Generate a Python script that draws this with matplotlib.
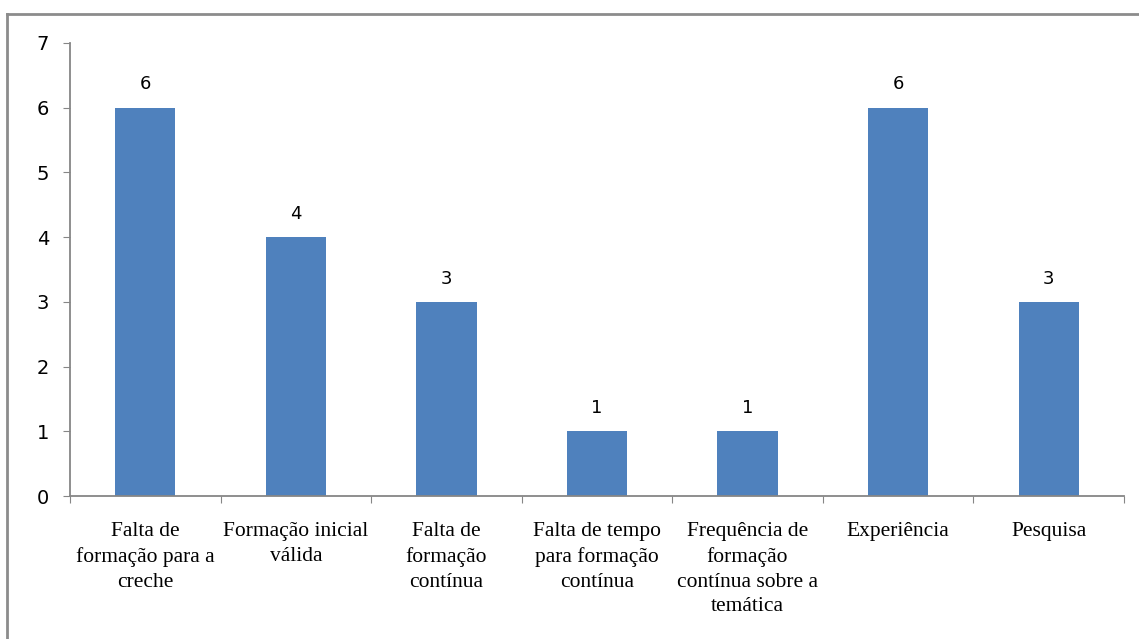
import matplotlib
matplotlib.use('Agg')
import matplotlib.pyplot as plt
from matplotlib.lines import Line2D
import numpy as np

categories = ['Falta de\nformação para a\ncreche', 'Formação inicial\nválida',
              'Falta de\nformação\ncontínua', 'Falta de tempo\npara formação\ncontínua',
              'Frequência de\nformação\ncontínua sobre a\ntemática', 'Experiência', 'Pesquisa']
values = [6, 4, 3, 1, 1, 6, 3]

axis_gray = '#868686'
bar_blue = '#4F81BD'

fig = plt.figure(figsize=(11.39, 6.39), dpi=100)
ax = fig.add_axes([70/1139, 1-496/639, (1124-70)/1139, (496-43)/639])

x = np.arange(len(categories))
bars = ax.bar(x, values, width=0.4, color=bar_blue, zorder=2)

for xi, v in zip(x, values):
    ax.text(xi, v + 0.22, str(v), ha='center', va='bottom', fontsize=13,
            family='DejaVu Sans')

ax.set_xlim(-0.5, len(categories) - 0.5)
ax.set_ylim(0, 7)
ax.set_yticks(range(0, 8))
ax.tick_params(axis='y', labelsize=14, length=5, color=axis_gray, pad=10)

# category labels between boundary ticks, like Excel
edges = np.arange(-0.5, len(categories))
ax.set_xticks(edges)
ax.set_xticklabels([''] * len(edges))
ax.tick_params(axis='x', length=5, color=axis_gray)
ax.set_xticks(x, minor=True)
ax.set_xticklabels(categories, minor=True, fontsize=15.5, family='Liberation Serif',
                   linespacing=1.4)
ax.tick_params(axis='x', which='minor', length=0, pad=19)

for s in ['top', 'right']:
    ax.spines[s].set_visible(False)
for s in ['left', 'bottom']:
    ax.spines[s].set_color(axis_gray)
    ax.spines[s].set_linewidth(1.3)

# outer chart border (only top/left visible in the crop)
fig.add_artist(Line2D([7/1139, 7/1139], [0, 1-14/639], color='#8c8c8c', lw=2,
                      transform=fig.transFigure))
fig.add_artist(Line2D([7/1139, 1], [1-14/639, 1-14/639], color='#8c8c8c', lw=2,
                      transform=fig.transFigure))

fig.savefig('out.png', dpi=100)
